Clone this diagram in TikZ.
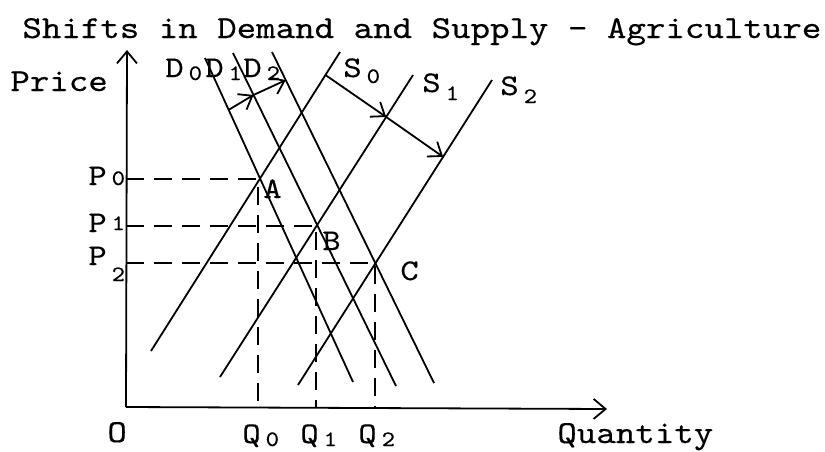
\documentclass[tikz,border=0pt]{standalone}
\usepackage{fontspec}
\setmonofont{lmmono10-regular.otf}[FakeStretch=1.16,FakeBold=0.35]
\usetikzlibrary{arrows.meta,calc}
\tikzset{
  curve/.style={line width=0.9pt},
  guide/.style={line width=0.9pt, dash pattern=on 9pt off 5pt},
  move/.style={line width=0.9pt, -{Straight Barb[length=6pt,width=9pt]}},
  axis/.style={line width=0.9pt, -{Straight Barb[length=6pt,width=10pt]}},
  lab/.style={font=\ttfamily\fontsize{15}{17}\selectfont, inner sep=0pt, anchor=base west},
  heading/.style={font=\ttfamily\fontsize{16}{19}\selectfont, inner sep=0pt, anchor=base west},
}
% letter with a small index beside it
\newcommand{\sublab}[3][1.5pt]{#2\kern2.5pt\raisebox{-#1}{\fontsize{11}{13}\selectfont #3}}

\begin{document}
\begin{tikzpicture}[x=0.5pt,y=-0.5pt]
  \useasboundingbox (0,0) rectangle (825,451);
  % Title and axis names
  \node[heading] (title) at (22,38) {Shifts in Demand and Supply - Agriculture};
  \node[heading] (price) at (10,91) {Price};
  \node[heading] (quantity) at (557,443) {Quantity};
  \node[heading] (orig) at (107,442) {O};
  % Define coordinates
  \coordinate (O) at (126,407);
  \coordinate (ytip) at (127,50);
  \coordinate (xtip) at (607,409);
  \coordinate (A) at (258,179);
  \coordinate (B) at (316,226);
  \coordinate (C) at (375,263);
  % demand lines (top, bottom)
  \coordinate (D0t) at (205,58);  \coordinate (D0b) at (353,382);
  \coordinate (D1t) at (233,53);  \coordinate (D1b) at (396,386);
  \coordinate (D2t) at (272,52);  \coordinate (D2b) at (434,383);
  % supply lines (top, bottom)
  \coordinate (S0t) at (340,52);  \coordinate (S0b) at (151,351);
  \coordinate (S1t) at (413,75);  \coordinate (S1b) at (220,377);
  \coordinate (S2t) at (492,80);  \coordinate (S2b) at (298,385);
  % Axes
  \draw[axis] (O) -- (ytip);
  \draw[axis] (O) -- (xtip);
  % Draw demand and supply curves
  \foreach \n in {D0,D1,D2,S0,S1,S2}
    \draw[curve] (\n t) -- (\n b);
  % Price and quantity guides
  \draw[guide] (O |- A) -- (A) -- (A |- O);
  \draw[guide] (O |- B) -- (B) -- (B |- O);
  \draw[guide] (O |- C) -- (C) -- (C |- O);
  % Shifts of demand
  \coordinate (d0) at ($(D0t)!0.16!(D0b)$);
  \coordinate (d1) at ($(D1t)!0.126!(D1b)$);
  \coordinate (d2) at ($(D2t)!0.085!(D2b)$);
  \draw[move] (d0) -- (d1);
  \draw[move] (d1) -- (d2);
  % Shifts of supply
  \coordinate (s0) at ($(S0t)!0.077!(S0b)$);
  \coordinate (s1) at ($(S1t)!0.139!(S1b)$);
  \coordinate (s2) at ($(S2t)!0.252!(S2b)$);
  \draw[move] (s0) -- (s1);
  \draw[move] (s1) -- (s2);
  % Curve labels
  \node[lab] (lD0) at (165,77) {\sublab{D}{0}};
  \node[lab] (lD1) at (205,77) {\sublab{D}{1}};
  \node[lab] (lD2) at (243,77) {\sublab{D}{2}};
  \node[lab] (lS0) at (343,77) {\sublab[3pt]{S}{0}};
  \node[lab] (lS1) at (422,92) {\sublab[4pt]{S}{1}};
  \node[lab] (lS2) at (500,95) {\sublab[4pt]{S}{2}};
  % Prices, quantities, equilibria
  \node[lab] (lP0) at (88,185) {\sublab[0pt]{P}{0}};
  \node[lab] (lP1) at (88,232) {\sublab[-1pt]{P}{1}};
  \node[lab] (lP2) at (88,265) {\sublab[8pt]{P}{2}};
  \node[lab] (lQ0) at (242,443) {\sublab{Q}{0}};
  \node[lab] (lQ1) at (300,443) {\sublab{Q}{1}};
  \node[lab] (lQ2) at (358,443) {\sublab{Q}{2}};
  \node[lab] (lA) at (263,198) {A};
  \node[lab] (lB) at (322,250) {B};
  \node[lab] (lC) at (400,280) {C};
\end{tikzpicture}
\end{document}
